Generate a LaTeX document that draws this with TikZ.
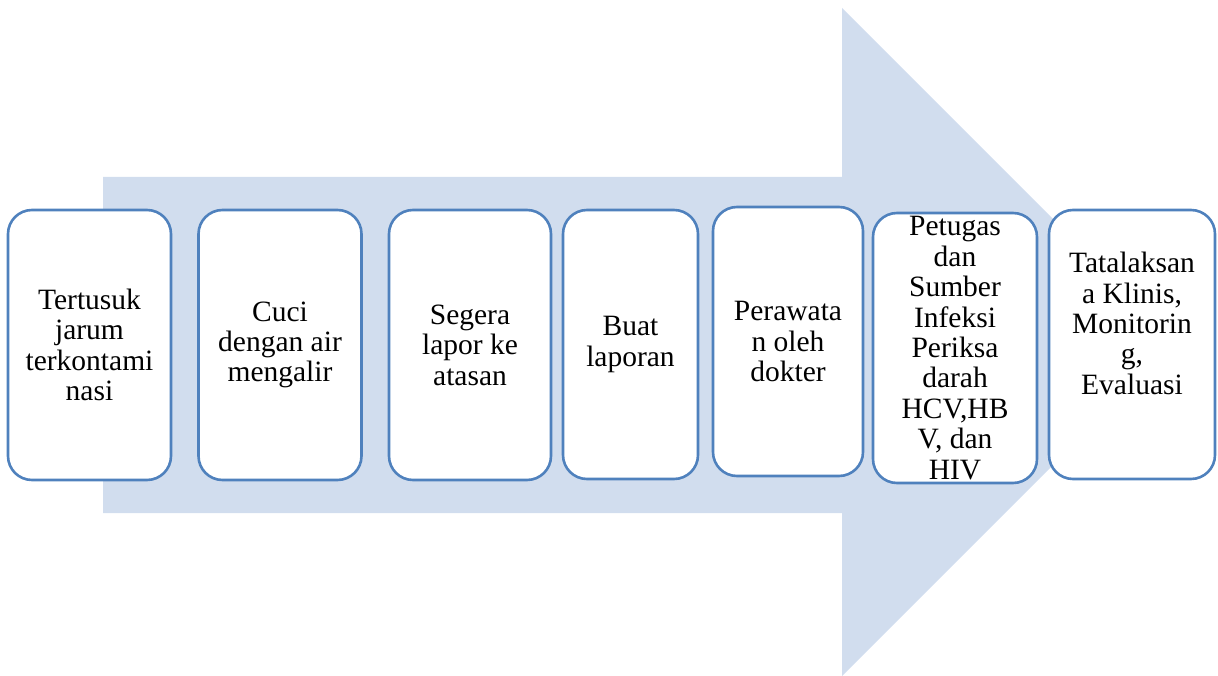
\documentclass[tikz,border=0pt]{standalone}
\usepackage{fontspec}
\setmainfont{Liberation Serif}
\definecolor{arrowfill}{RGB}{209,221,238}
\definecolor{boxline}{RGB}{79,129,189}
\begin{document}
\begin{tikzpicture}[x=1pt,y=-1pt,
  stepbox/.style={draw=boxline,line width=2.6pt,fill=white,rounded corners=24pt,
    inner sep=0pt,align=center,font=\fontsize{29.5}{30.4}\selectfont},
  steptext/.style={inner sep=0pt,align=center,font=\fontsize{29.5}{30.4}\selectfont}]
\useasboundingbox (0,0) rectangle (1218,676);
% big arrow
\fill[arrowfill] (103,177) -- (842,177) -- (842,8) -- (1176,342) -- (842,676) -- (842,513) -- (103,513) -- cycle;
% boxes
\node[stepbox,minimum width=163pt,minimum height=270pt] (b1) at (89.5,345) {Tertusuk\\jarum\\terkontami\\nasi};
\node[stepbox,minimum width=163pt,minimum height=270pt] (b2) at (280,345) {Cuci\\dengan air\\mengalir};
\node[stepbox,minimum width=162pt,minimum height=270pt] (b3) at (470,345) {Segera\\lapor ke\\atasan};
\node[stepbox,minimum width=135pt,minimum height=269pt] (b4) at (630.5,344.5) {Buat\\laporan};
\node[stepbox,minimum width=150pt,minimum height=269pt] (b5) at (788,341.5) {Perawata\\n oleh\\dokter};
\node[stepbox,minimum width=164pt,minimum height=270pt] (b6) at (955,348) {Petugas\\dan\\Sumber\\Infeksi\\Periksa\\darah\\HCV,HB\\V, dan\\HIV};
\node[stepbox,minimum width=166pt,minimum height=269pt] (b7) at (1132,344.5) {};
\node[steptext] (t7) at ([yshift=21pt]b7.center) {Tatalaksan\\a Klinis,\\Monitorin\\g,\\Evaluasi};
\end{tikzpicture}
\end{document}
